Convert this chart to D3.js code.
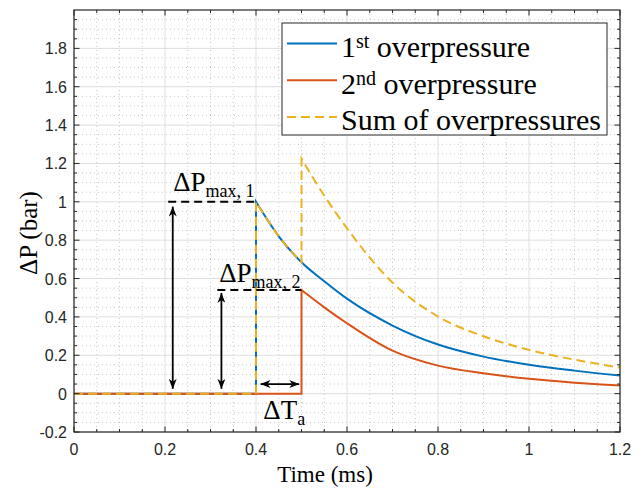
<!DOCTYPE html>
<html lang="en">
<head>
  <meta charset="UTF-8">
  <title>Overpressure superposition</title>
  <script src="https://d3js.org/d3.v7.min.js"></script>
  <style>
    body { margin: 0; background: #fff; }
    .tick-label { font-family: "Liberation Sans", Arial, sans-serif; font-size: 16px; fill: #262626; }
    .serif { font-family: "Liberation Serif", "Times New Roman", serif; fill: #000; }
  </style>
</head>
<body>
  <svg width="642" height="492"></svg>
  <script>
    // time (ms) and overpressure (bar)
    const firstTime = [0.4, 0.45, 0.5, 0.55, 0.6, 0.7, 0.8, 0.9, 1.0, 1.1, 1.2];
    const firstOver = [1.0, 0.82, 0.685, 0.586, 0.495, 0.355, 0.256, 0.193, 0.151, 0.12, 0.094];
    const secondTime = [0.5, 0.55, 0.6, 0.7, 0.8, 0.9, 1.0, 1.1, 1.2];
    const secondOver = [0.54, 0.45, 0.367, 0.224, 0.146, 0.106, 0.077, 0.057, 0.042];
    const sumOver = [1.225, 1.032, 0.862, 0.579, 0.402, 0.299, 0.228, 0.177, 0.136];
    const arrivalTimes = [0.4, 0.5];

    const xTicks = [0, 0.2, 0.4, 0.6, 0.8, 1, 1.2];
    const yTicks = [-0.2, 0, 0.2, 0.4, 0.6, 0.8, 1, 1.2, 1.4, 1.6, 1.8];
    const legendNames = [["1", "st", " overpressure"], ["2", "nd", " overpressure"], ["Sum of overpressures", "", ""]];

    const svg = d3.select("svg");
    const pLeft = 74, pRight = 620, pTop = 10, pBottom = 432;
    const x = d3.scaleLinear().domain([0, 1.2]).range([pLeft, pRight]);
    const y = d3.scaleLinear().domain([-0.2, 2]).range([pBottom, pTop]);

    const blue = "#0072BD", red = "#D95319", yellow = "#EDB120";

    // grid
    const minorX = d3.range(0, 1.2001, 0.05).filter(t => Math.abs(t / 0.2 - Math.round(t / 0.2)) > 0.01);
    const minorY = d3.range(-0.2, 2.0001, 0.05).filter(v => Math.abs(v / 0.2 - Math.round(v / 0.2)) > 0.01);
    const grid = svg.append("g");
    grid.selectAll(".mx").data(minorX).enter().append("line")
      .attr("x1", d => x(d)).attr("x2", d => x(d)).attr("y1", pTop).attr("y2", pBottom)
      .attr("stroke", "#c8c8c8").attr("stroke-width", 1).attr("stroke-dasharray", "1,3");
    grid.selectAll(".my").data(minorY).enter().append("line")
      .attr("y1", d => y(d)).attr("y2", d => y(d)).attr("x1", pLeft).attr("x2", pRight)
      .attr("stroke", "#c8c8c8").attr("stroke-width", 1).attr("stroke-dasharray", "1,3");
    grid.selectAll(".gx").data(xTicks).enter().append("line")
      .attr("x1", d => x(d)).attr("x2", d => x(d)).attr("y1", pTop).attr("y2", pBottom)
      .attr("stroke", "#dedede").attr("stroke-width", 1);
    grid.selectAll(".gy").data(yTicks).enter().append("line")
      .attr("y1", d => y(d)).attr("y2", d => y(d)).attr("x1", pLeft).attr("x2", pRight)
      .attr("stroke", "#dedede").attr("stroke-width", 1);

    // curves
    const straight = d3.line().x(d => x(d[0])).y(d => y(d[1]));
    const smooth = d3.line().x(d => x(d[0])).y(d => y(d[1])).curve(d3.curveMonotoneX);
    const join = (...parts) => parts.map((p, i) => i ? p.replace(/^M/, "L") : p).join("");

    const first = firstTime.map((t, i) => [t, firstOver[i]]);
    const second = secondTime.map((t, i) => [t, secondOver[i]]);
    const total = secondTime.map((t, i) => [t, sumOver[i]]);
    const firstBefore = first.filter(d => d[0] <= arrivalTimes[1]);

    const plot = svg.append("g");
    plot.append("path")
      .attr("d", join(straight([[0, 0], [arrivalTimes[0], 0]]), smooth(first)))
      .attr("fill", "none").attr("stroke", blue).attr("stroke-width", 2);
    plot.append("path")
      .attr("d", join(straight([[0, 0], [arrivalTimes[1], 0]]), smooth(second)))
      .attr("fill", "none").attr("stroke", red).attr("stroke-width", 2);
    plot.append("path")
      .attr("d", join(straight([[0, 0], [arrivalTimes[0], 0]]), smooth(firstBefore), smooth(total)))
      .attr("fill", "none").attr("stroke", yellow).attr("stroke-width", 2)
      .attr("stroke-dasharray", "9,5");

    // annotations
    const defs = svg.append("defs");
    defs.append("marker").attr("id", "head").attr("viewBox", "0 0 10 8")
      .attr("refX", 10).attr("refY", 4).attr("markerWidth", 10).attr("markerHeight", 8)
      .attr("markerUnits", "userSpaceOnUse").attr("orient", "auto-start-reverse")
      .append("path").attr("d", "M0,0 L10,4 L0,8 L3,4 Z").attr("fill", "#000");

    const ann = svg.append("g");
    const dashLine = (t0, t1, v) => ann.append("line")
      .attr("x1", x(t0)).attr("x2", x(t1)).attr("y1", y(v)).attr("y2", y(v))
      .attr("stroke", "#000").attr("stroke-width", 2).attr("stroke-dasharray", "8,5");
    dashLine(0.207, arrivalTimes[0], firstOver[0]);
    dashLine(0.315, arrivalTimes[1], secondOver[0]);

    const arrow = (t0, v0, t1, v1) => ann.append("line")
      .attr("x1", x(t0)).attr("y1", y(v0)).attr("x2", x(t1)).attr("y2", y(v1))
      .attr("stroke", "#000").attr("stroke-width", 1.8)
      .attr("marker-start", "url(#head)").attr("marker-end", "url(#head)");
    arrow(0.217, 0.025, 0.217, 0.975);
    arrow(0.324, 0.025, 0.324, 0.525);
    arrow(0.41, 0.05, 0.495, 0.05);

    const label = (t, v, main, sub) => {
      const txt = ann.append("text").attr("class", "serif")
        .attr("x", x(t)).attr("y", y(v)).attr("font-size", 27);
      txt.append("tspan").text(main);
      txt.append("tspan").attr("font-size", 18).attr("dy", 6).text(sub);
    };
    label(0.218, 1.054, "\u0394P", "max, 1");
    label(0.319, 0.584, "\u0394P", "max, 2");
    label(0.416, -0.13, "\u0394T", "a");

    // frame and ticks
    const axes = svg.append("g").attr("stroke", "#262626");
    axes.append("rect").attr("x", pLeft).attr("y", pTop).attr("width", pRight - pLeft).attr("height", pBottom - pTop)
      .attr("fill", "none").attr("stroke-width", 1.2);
    const tickX = (vals, len) => vals.forEach(t => {
      axes.append("line").attr("x1", x(t)).attr("x2", x(t)).attr("y1", pBottom).attr("y2", pBottom - len);
      axes.append("line").attr("x1", x(t)).attr("x2", x(t)).attr("y1", pTop).attr("y2", pTop + len);
    });
    const tickY = (vals, len) => vals.forEach(v => {
      axes.append("line").attr("y1", y(v)).attr("y2", y(v)).attr("x1", pLeft).attr("x2", pLeft + len);
      axes.append("line").attr("y1", y(v)).attr("y2", y(v)).attr("x1", pRight).attr("x2", pRight - len);
    });
    tickX(xTicks, 5.5); tickX(minorX, 3);
    tickY(yTicks, 5.5); tickY(minorY, 3);

    svg.append("g").selectAll("text").data(xTicks).enter().append("text")
      .attr("class", "tick-label").attr("x", d => x(d)).attr("y", 455)
      .attr("text-anchor", "middle").text(d => d);
    svg.append("g").selectAll("text").data(yTicks).enter().append("text")
      .attr("class", "tick-label").attr("x", 67).attr("y", d => y(d) + 6)
      .attr("text-anchor", "end").text(d => d);

    svg.append("text").attr("class", "serif").attr("x", 325).attr("y", 482)
      .attr("text-anchor", "middle").attr("font-size", 23).text("Time (ms)");
    svg.append("text").attr("class", "serif")
      .attr("transform", "translate(37,233) rotate(-90)")
      .attr("text-anchor", "middle").attr("font-size", 25).text("\u0394P (bar)");

    // legend
    const legend = svg.append("g");
    legend.append("rect").attr("x", 282).attr("y", 23).attr("width", 325).attr("height", 112)
      .attr("fill", "#fff").attr("stroke", "#262626").attr("stroke-width", 1);
    const legendColors = [blue, red, yellow];
    legendNames.forEach((parts, i) => {
      const cy = 43.5 + i * 36.7;
      legend.append("line").attr("x1", 287).attr("x2", 337).attr("y1", cy).attr("y2", cy)
        .attr("stroke", legendColors[i]).attr("stroke-width", 2)
        .attr("stroke-dasharray", i === 2 ? "9,5" : null);
      const txt = legend.append("text").attr("class", "serif")
        .attr("x", 341).attr("y", cy + 13.5).attr("font-size", 30);
      txt.append("tspan").text(parts[0]);
      if (parts[1]) {
        txt.append("tspan").attr("font-size", 20).attr("dy", -9).text(parts[1]);
        txt.append("tspan").attr("dy", 9).text(parts[2]);
      }
    });
  </script>
</body>
</html>
